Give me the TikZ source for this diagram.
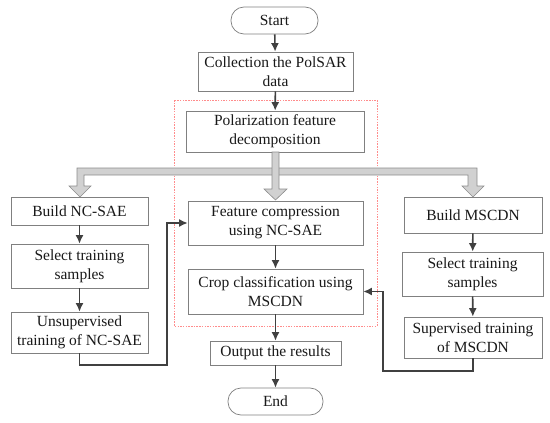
\documentclass[tikz,border=0pt]{standalone}
\usepackage{fontspec}
\setmainfont{Liberation Serif}
\usetikzlibrary{arrows.meta,calc}
\begin{document}
\begin{tikzpicture}[x=1pt,y=-1pt,
  box/.style={draw=black!50,line width=0.7pt,fill=white,align=center,inner sep=0pt,
    font=\fontsize{15.5}{19}\selectfont,text=black!90},
  term/.style={box,rounded corners=13pt},
  arr/.style={draw=black!75,line width=1.6pt,-{Latex[length=8.5pt,width=8pt]}},
  blk/.style={draw=black!45,line width=0.6pt,fill=black!18},
  region/.style={draw=red!45,line width=0.8pt,dash pattern=on 1.5pt off 1.2pt}]
\useasboundingbox (0,0) rectangle (550,423);
% red dashed region
\draw[region] (174,100) rectangle (377,326);
% nodes (centre column)
\node[term,minimum width=87pt,minimum height=27pt] (start) at (274.5,20.5) {Start};
\node[box,minimum width=155pt,minimum height=39pt] (coll) at (275.5,71.5) {Collection the PolSAR\\data};
\node[box,minimum width=178pt,minimum height=41pt] (pol) at (275,131.5) {Polarization feature\\decomposition};
\node[box,minimum width=175pt,minimum height=44pt] (feat) at (275.5,223) {Feature compression\\using NC-SAE};
\node[box,minimum width=175pt,minimum height=45pt] (crop) at (275.5,291.5) {Crop classification using\\MSCDN};
\node[box,minimum width=131pt,minimum height=24pt] (out) at (275.5,353) {Output the results};
\node[term,minimum width=95pt,minimum height=27pt] (end) at (275.5,401.5) {End};
% left column
\node[box,minimum width=137pt,minimum height=28pt] (bnc) at (79.5,211) {Build NC-SAE};
\node[box,minimum width=137pt,minimum height=44pt] (sl) at (79.5,266) {Select training\\samples};
\node[box,minimum width=137pt,minimum height=41pt] (un) at (79.5,332.5) {Unsupervised\\training of NC-SAE};
% right column
\node[box,minimum width=138pt,minimum height=36pt] (bms) at (473,215) {Build MSCDN};
\node[box,minimum width=141pt,minimum height=44pt] (sr) at (472.5,274) {Select training\\samples};
\node[box,minimum width=138pt,minimum height=41pt] (su) at (473,337.5) {Supervised training\\of MSCDN};
% gray block arrows: bar with left and right heads
\path[blk] (77,168) -- (477,168) -- (477,186) -- (484,186) -- (473,197) -- (462,186) -- (468,186)
  -- (468,175) -- (84,175) -- (84,186) -- (91,186) -- (80,197) -- (69,186) -- (77,186) -- cycle;
% centre block arrow
\path[blk] (272,152) -- (279,152) -- (279,189) -- (287,189) -- (275.5,200) -- (264,189) -- (272,189) -- cycle;
% main arrows
\draw[arr] (start) -- (coll);
\draw[arr] (coll) -- (pol);
\draw[arr] (feat) -- (crop);
\draw[arr] (crop) -- (out);
\draw[arr] (out) -- (end);
\draw[arr] (bnc) -- (sl);
\draw[arr] (sl) -- (un);
\draw[arr] (bms) -- (sr);
\draw[arr] (sr) -- (su);
% feedback loops
\coordinate (lb) at (167,365);
\coordinate (rb) at (383,371);
\draw[arr] (un.south) |- (lb) -- (lb |- feat.west) -- (feat.west);
\draw[arr] (su.south) |- (rb) -- (rb |- crop.east) -- (crop.east);
\end{tikzpicture}
\end{document}
